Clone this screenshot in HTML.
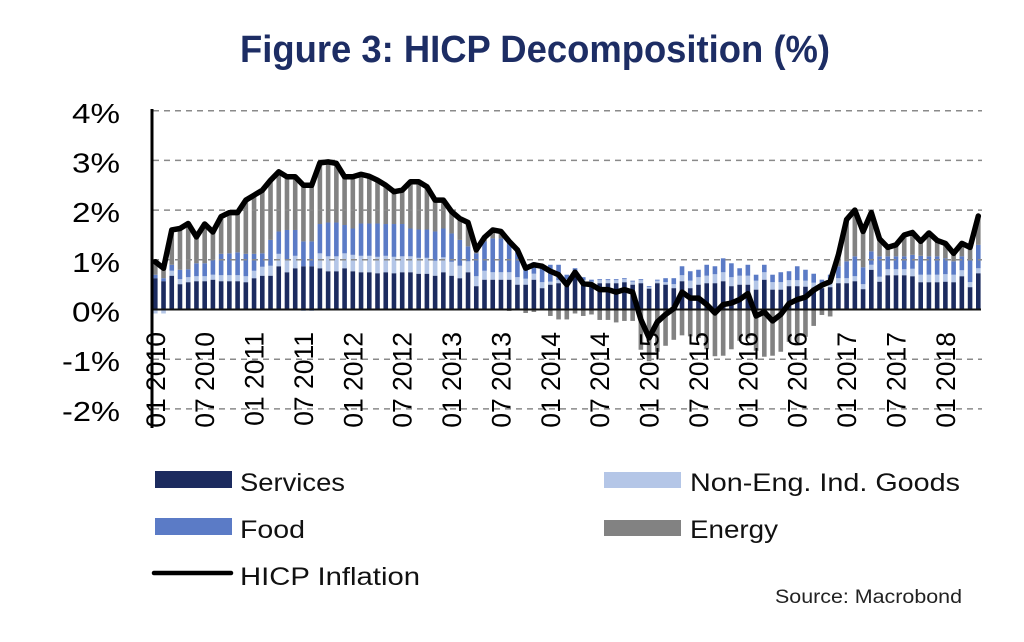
<!DOCTYPE html>
<html>
<head>
<meta charset="utf-8">
<style>
html,body{margin:0;padding:0;background:#fff;overflow:hidden;}
svg{display:block;}
</style>
</head>
<body>
<svg id="chart" width="1024" height="642" viewBox="0 0 1024 642" xmlns="http://www.w3.org/2000/svg">
<rect width="1024" height="642" fill="#ffffff"/>
<text x="240" y="62" font-family="Liberation Sans, Arial, sans-serif" font-weight="bold" font-size="38" fill="#1d2d64" textLength="590" lengthAdjust="spacingAndGlyphs">Figure 3: HICP Decomposition (%)</text>

<g id="bars"></g>

<g stroke="#8a8a8a" stroke-width="1.5" stroke-dasharray="6,5" fill="none">
<line x1="153" y1="110.7" x2="982" y2="110.7"/>
<line x1="153" y1="160.4" x2="982" y2="160.4"/>
<line x1="153" y1="210.1" x2="982" y2="210.1"/>
<line x1="153" y1="259.8" x2="982" y2="259.8"/>
<line x1="153" y1="359.2" x2="982" y2="359.2"/>
<line x1="153" y1="408.9" x2="982" y2="408.9"/>
</g>
<line x1="152" y1="309.5" x2="981" y2="309.5" stroke="#111" stroke-width="2"/>

<g font-family="Liberation Sans, Arial, sans-serif" font-size="28" fill="#000" text-anchor="end">
<text x="120" y="123" textLength="48" lengthAdjust="spacingAndGlyphs">4%</text>
<text x="120" y="172.5" textLength="48" lengthAdjust="spacingAndGlyphs">3%</text>
<text x="120" y="222" textLength="48" lengthAdjust="spacingAndGlyphs">2%</text>
<text x="120" y="272" textLength="48" lengthAdjust="spacingAndGlyphs">1%</text>
<text x="120" y="321.5" textLength="48" lengthAdjust="spacingAndGlyphs">0%</text>
<text x="120" y="371" textLength="58" lengthAdjust="spacingAndGlyphs">-1%</text>
<text x="120" y="421" textLength="58" lengthAdjust="spacingAndGlyphs">-2%</text>
</g>

<g font-family="Liberation Sans, Arial, sans-serif" font-size="26.5" fill="#000" text-anchor="end">
<text transform="translate(164.8,332) rotate(-90)">01 2010</text>
<text transform="translate(214.2,332) rotate(-90)">07 2010</text>
<text transform="translate(263.6,332) rotate(-90)">01 2011</text>
<text transform="translate(312.9,332) rotate(-90)">07 2011</text>
<text transform="translate(362.3,332) rotate(-90)">01 2012</text>
<text transform="translate(411.7,332) rotate(-90)">07 2012</text>
<text transform="translate(461.1,332) rotate(-90)">01 2013</text>
<text transform="translate(510.5,332) rotate(-90)">07 2013</text>
<text transform="translate(559.8,332) rotate(-90)">01 2014</text>
<text transform="translate(609.2,332) rotate(-90)">07 2014</text>
<text transform="translate(658.6,332) rotate(-90)">01 2015</text>
<text transform="translate(708.0,332) rotate(-90)">07 2015</text>
<text transform="translate(757.4,332) rotate(-90)">01 2016</text>
<text transform="translate(806.7,332) rotate(-90)">07 2016</text>
<text transform="translate(856.1,332) rotate(-90)">01 2017</text>
<text transform="translate(905.5,332) rotate(-90)">07 2017</text>
<text transform="translate(954.9,332) rotate(-90)">01 2018</text>
</g>

<polyline id="hicp" fill="none" stroke="#000" stroke-width="5.5" stroke-linejoin="round" stroke-linecap="round" points=""/>
<line x1="152" y1="109" x2="152" y2="428" stroke="#000" stroke-width="3"/>

<!-- Legend -->
<rect x="155" y="471" width="77" height="17" fill="#1c2b5f"/>
<rect x="155" y="518" width="77" height="17" fill="#5b7bc6"/>
<line x1="154" y1="573" x2="231" y2="573" stroke="#000" stroke-width="4.5" stroke-linecap="round"/>
<rect x="604" y="472" width="77" height="16" fill="#b4c6e7"/>
<rect x="604" y="520" width="77" height="16" fill="#828282"/>
<g font-family="Liberation Sans, Arial, sans-serif" font-size="25" fill="#111">
<text x="240" y="491" textLength="105" lengthAdjust="spacingAndGlyphs">Services</text>
<text x="240" y="538" textLength="65" lengthAdjust="spacingAndGlyphs">Food</text>
<text x="240" y="585" textLength="180" lengthAdjust="spacingAndGlyphs">HICP Inflation</text>
<text x="690" y="491" textLength="270" lengthAdjust="spacingAndGlyphs">Non-Eng. Ind. Goods</text>
<text x="690" y="538" textLength="88" lengthAdjust="spacingAndGlyphs">Energy</text>
</g>
<text x="775" y="603" font-family="Liberation Sans, Arial, sans-serif" font-size="19" fill="#222" textLength="187" lengthAdjust="spacingAndGlyphs">Source: Macrobond</text>
</svg>
<script>
(function(){
var H=[0.96,0.83,1.6,1.63,1.73,1.46,1.72,1.56,1.87,1.95,1.95,2.2,
2.3,2.4,2.6,2.77,2.67,2.67,2.5,2.5,2.95,2.97,2.94,2.67,
2.67,2.72,2.68,2.6,2.5,2.37,2.4,2.57,2.57,2.47,2.2,2.2,
1.97,1.83,1.75,1.2,1.45,1.6,1.57,1.37,1.2,0.83,0.9,0.87,
0.77,0.7,0.5,0.75,0.52,0.5,0.4,0.4,0.35,0.4,0.35,-0.2,
-0.57,-0.25,-0.1,0.02,0.35,0.23,0.23,0.1,-0.07,0.1,0.13,0.2,
0.32,-0.13,-0.05,-0.23,-0.1,0.12,0.2,0.25,0.39,0.49,0.56,1.1,
1.81,2.0,1.57,1.95,1.42,1.25,1.3,1.5,1.55,1.37,1.54,1.39,
1.33,1.13,1.33,1.25,1.88];
var S=[0.63,0.57,0.68,0.51,0.55,0.57,0.57,0.6,0.57,0.57,0.57,0.55,
0.63,0.68,0.68,0.87,0.75,0.83,0.87,0.87,0.83,0.77,0.77,0.83,
0.77,0.75,0.75,0.73,0.75,0.73,0.75,0.75,0.72,0.72,0.68,0.75,
0.68,0.63,0.75,0.47,0.6,0.6,0.6,0.6,0.5,0.5,0.6,0.43,
0.5,0.53,0.55,0.72,0.53,0.5,0.53,0.53,0.53,0.55,0.5,0.53,
0.42,0.53,0.5,0.43,0.57,0.43,0.5,0.53,0.53,0.57,0.47,0.5,
0.5,0.4,0.6,0.4,0.4,0.47,0.47,0.46,0.44,0.43,0.45,0.53,
0.53,0.57,0.41,0.8,0.56,0.69,0.69,0.69,0.67,0.55,0.55,0.55,
0.56,0.55,0.67,0.45,0.73];
var N=[-0.08,-0.08,0.1,0.1,0.1,0.1,0.1,0.1,0.12,0.12,0.12,0.12,
0.15,0.18,0.2,0.25,0.25,0.25,-0.03,-0.03,0.3,0.3,0.3,0.3,
0.33,0.33,0.33,0.33,0.33,0.33,0.32,0.32,0.32,0.32,0.3,0.3,
0.28,0.25,0.22,0.2,0.18,0.15,0.15,0.15,0.15,0.12,0.12,0.12,
0.06,0.06,0.06,0.06,0.06,0.06,0.06,0.06,0.06,0.06,0.06,0.06,
0.03,0.05,0.05,0.08,0.12,0.15,0.15,0.15,0.18,0.18,0.18,0.18,
0.18,0.18,0.15,0.15,0.15,0.12,0.12,0.12,0.1,0.1,0.1,0.1,
0.1,0.1,0.1,0.1,0.1,0.12,0.12,0.12,0.15,0.15,0.15,0.15,
0.15,0.15,0.12,0.1,0.1];
var C=[0.7,0.63,0.9,0.8,0.81,0.93,0.93,1.0,1.12,1.13,1.15,1.12,
1.12,1.13,1.4,1.57,1.6,1.6,1.37,1.37,1.72,1.75,1.75,1.7,
1.63,1.73,1.73,1.73,1.72,1.72,1.72,1.63,1.61,1.61,1.57,1.63,
1.53,1.4,1.27,1.13,1.37,1.43,1.43,1.4,1.15,0.9,0.95,0.87,
0.9,0.9,0.7,0.83,0.65,0.6,0.6,0.6,0.6,0.6,0.55,0.55,
0.45,0.53,0.63,0.63,0.87,0.77,0.8,0.9,0.87,1.03,0.93,0.83,
0.9,0.7,0.9,0.7,0.75,0.77,0.87,0.8,0.72,0.6,0.7,0.87,
0.97,1.07,0.85,1.17,1.07,1.07,1.07,1.07,1.1,1.08,1.07,1.07,
1.03,0.97,1.07,1.0,1.3];
var SV="#1c2b5f",NC="#b4c6e7",FC="#5b7bc6",EC="#828282";
function X(k){return 155.3+8.23*k;}
function Y(v){return 309.5-49.7*v;}
var bw=4.6,out="";
function r(x,a,b,col){
  var y0=Y(Math.max(a,b)),y1=Y(Math.min(a,b));
  out+='<rect x="'+(x-bw/2).toFixed(2)+'" y="'+y0.toFixed(2)+'" width="'+bw+'" height="'+(y1-y0).toFixed(2)+'" fill="'+col+'"/>';
}
var pts=[];
for(var k=0;k<H.length;k++){
  var x=X(k),s=S[k],n=N[k],c=C[k],np=Math.max(n,0);
  var f=Math.max(c-s-np,0.02);
  var top=s+np+f,e=H[k]-top;
  r(x,0,s,SV);var b=s;
  if(np>0){r(x,b,b+np,NC);b+=np;}
  r(x,b,b+f,FC);b+=f;
  if(e>0)r(x,b,b+e,EC);
  var nb=0;
  if(n<0){r(x,0,n,NC);nb=n;}
  if(e<0)r(x,nb,nb+e,EC);
  pts.push(x.toFixed(2)+","+Y(H[k]).toFixed(2));
}
document.getElementById("bars").innerHTML=out;
document.getElementById("hicp").setAttribute("points",pts.join(" "));
})();
</script>
</body>
</html>
